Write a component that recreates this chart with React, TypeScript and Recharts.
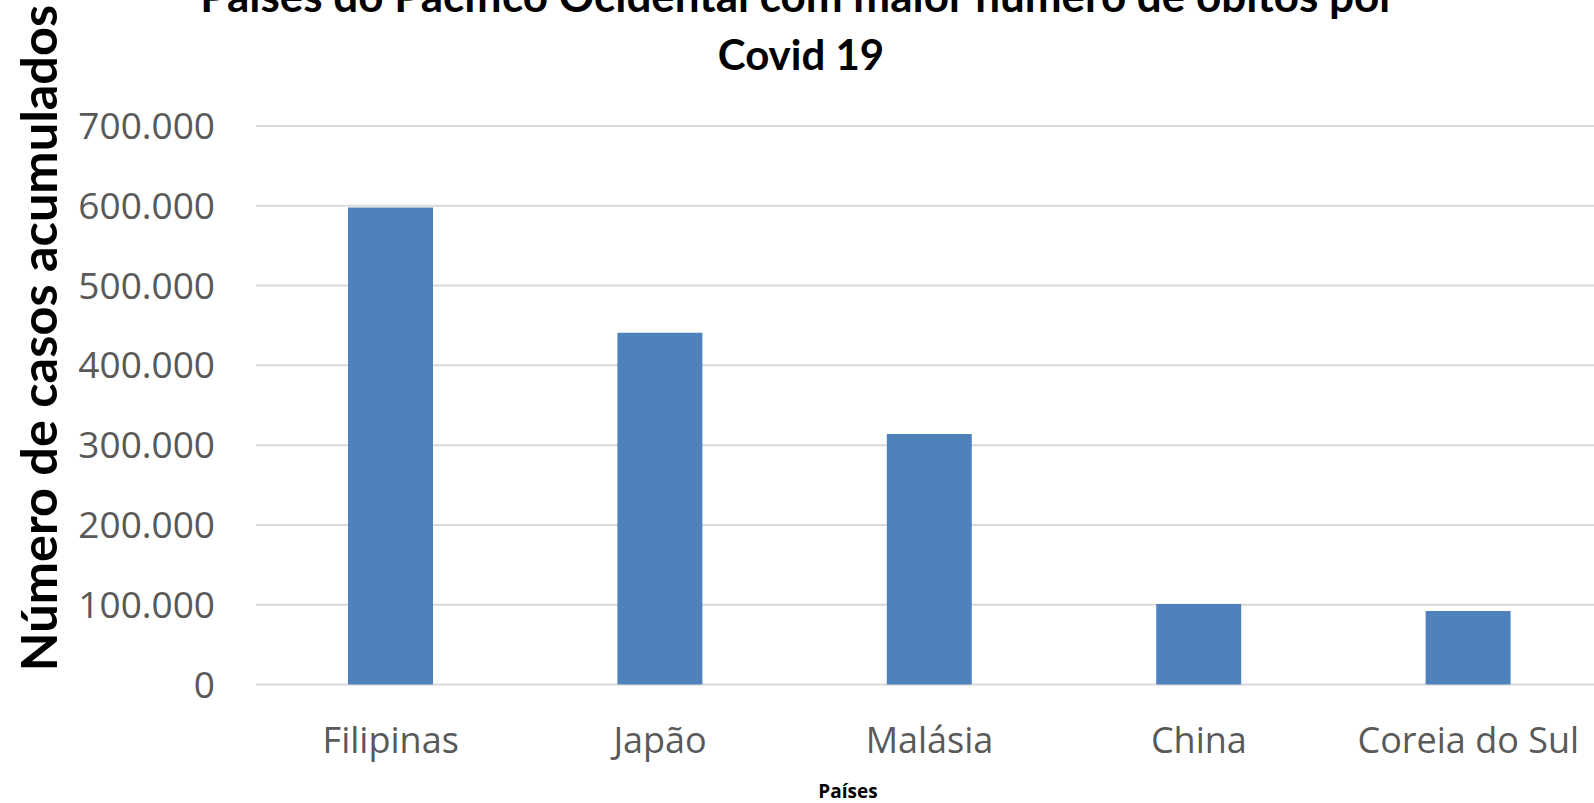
import React from 'react';
import { BarChart, Bar, XAxis, YAxis, CartesianGrid } from 'recharts';

// dados (valores aproximados)
const paises = ['Filipinas', 'Japão', 'Malásia', 'China', 'Coreia do Sul'];
const casos = [598000, 441000, 314000, 101000, 92000];
const yTicks = [0, 100000, 200000, 300000, 400000, 500000, 600000, 700000];

const tituloLinha1 = 'Países do Pacífico Ocidental com maior número de óbitos por';
const tituloLinha2 = 'Covid 19';
const tituloY = 'Número de casos acumulados';
const tituloX = 'Países';

const data = paises.map((pais, i) => ({ pais, casos: casos[i] }));

// separador de milhar com ponto, como no Excel em pt-BR
const fmt = (v: number) => String(v).replace(/\B(?=(\d{3})+(?!\d))/g, '.');

const tickFont = { fontFamily: 'Open Sans', fill: '#595959' };

const App: React.FC = () => {
    return (
        <div style={{ position: 'absolute', left: 0, top: 0, width: 1594, height: 803, overflow: 'hidden', background: '#fff' }}>
            <BarChart width={1603} height={803} data={data} margin={{ top: 126, right: 0, bottom: 0, left: 0 }}>
                <CartesianGrid vertical={false} stroke="#d9d9d9" strokeWidth={2} />
                <XAxis
                    dataKey="pais"
                    height={118.5}
                    axisLine={false}
                    tickLine={false}
                    tickSize={0}
                    tickMargin={43}
                    tick={{ ...tickFont, fontSize: 36 }}
                    interval={0}
                />
                <YAxis
                    width={256}
                    domain={[0, 700000]}
                    ticks={yTicks}
                    tickFormatter={fmt}
                    axisLine={false}
                    tickLine={false}
                    tickSize={0}
                    tickMargin={41}
                    tick={{ ...tickFont, fontSize: 37 }}
                />
                <Bar dataKey="casos" fill="#4f81bd" barSize={85} isAnimationActive={false} />
            </BarChart>
            {/* título e títulos dos eixos; a 1ª linha do título fica cortada no topo, como no original */}
            <svg width={1594} height={803} style={{ position: 'absolute', left: 0, top: 0, pointerEvents: 'none' }}>
                <text x={798} y={12} textAnchor="middle" fontFamily="Lato" fontWeight="bold" fontSize={44} fill="#000">
                    {tituloLinha1}
                </text>
                <text x={801} y={70} textAnchor="middle" fontFamily="Lato" fontWeight="bold" fontSize={42} fill="#000">
                    {tituloLinha2}
                </text>
                <text transform="translate(57,338) rotate(-90)" textAnchor="middle" fontFamily="Lato" fontWeight="bold" fontSize={50.5} fill="#000">
                    {tituloY}
                </text>
                <text x={848} y={798} textAnchor="middle" fontFamily="Open Sans" fontWeight="bold" fontSize={19} fill="#000">
                    {tituloX}
                </text>
            </svg>
        </div>
    );
};

export default App;
